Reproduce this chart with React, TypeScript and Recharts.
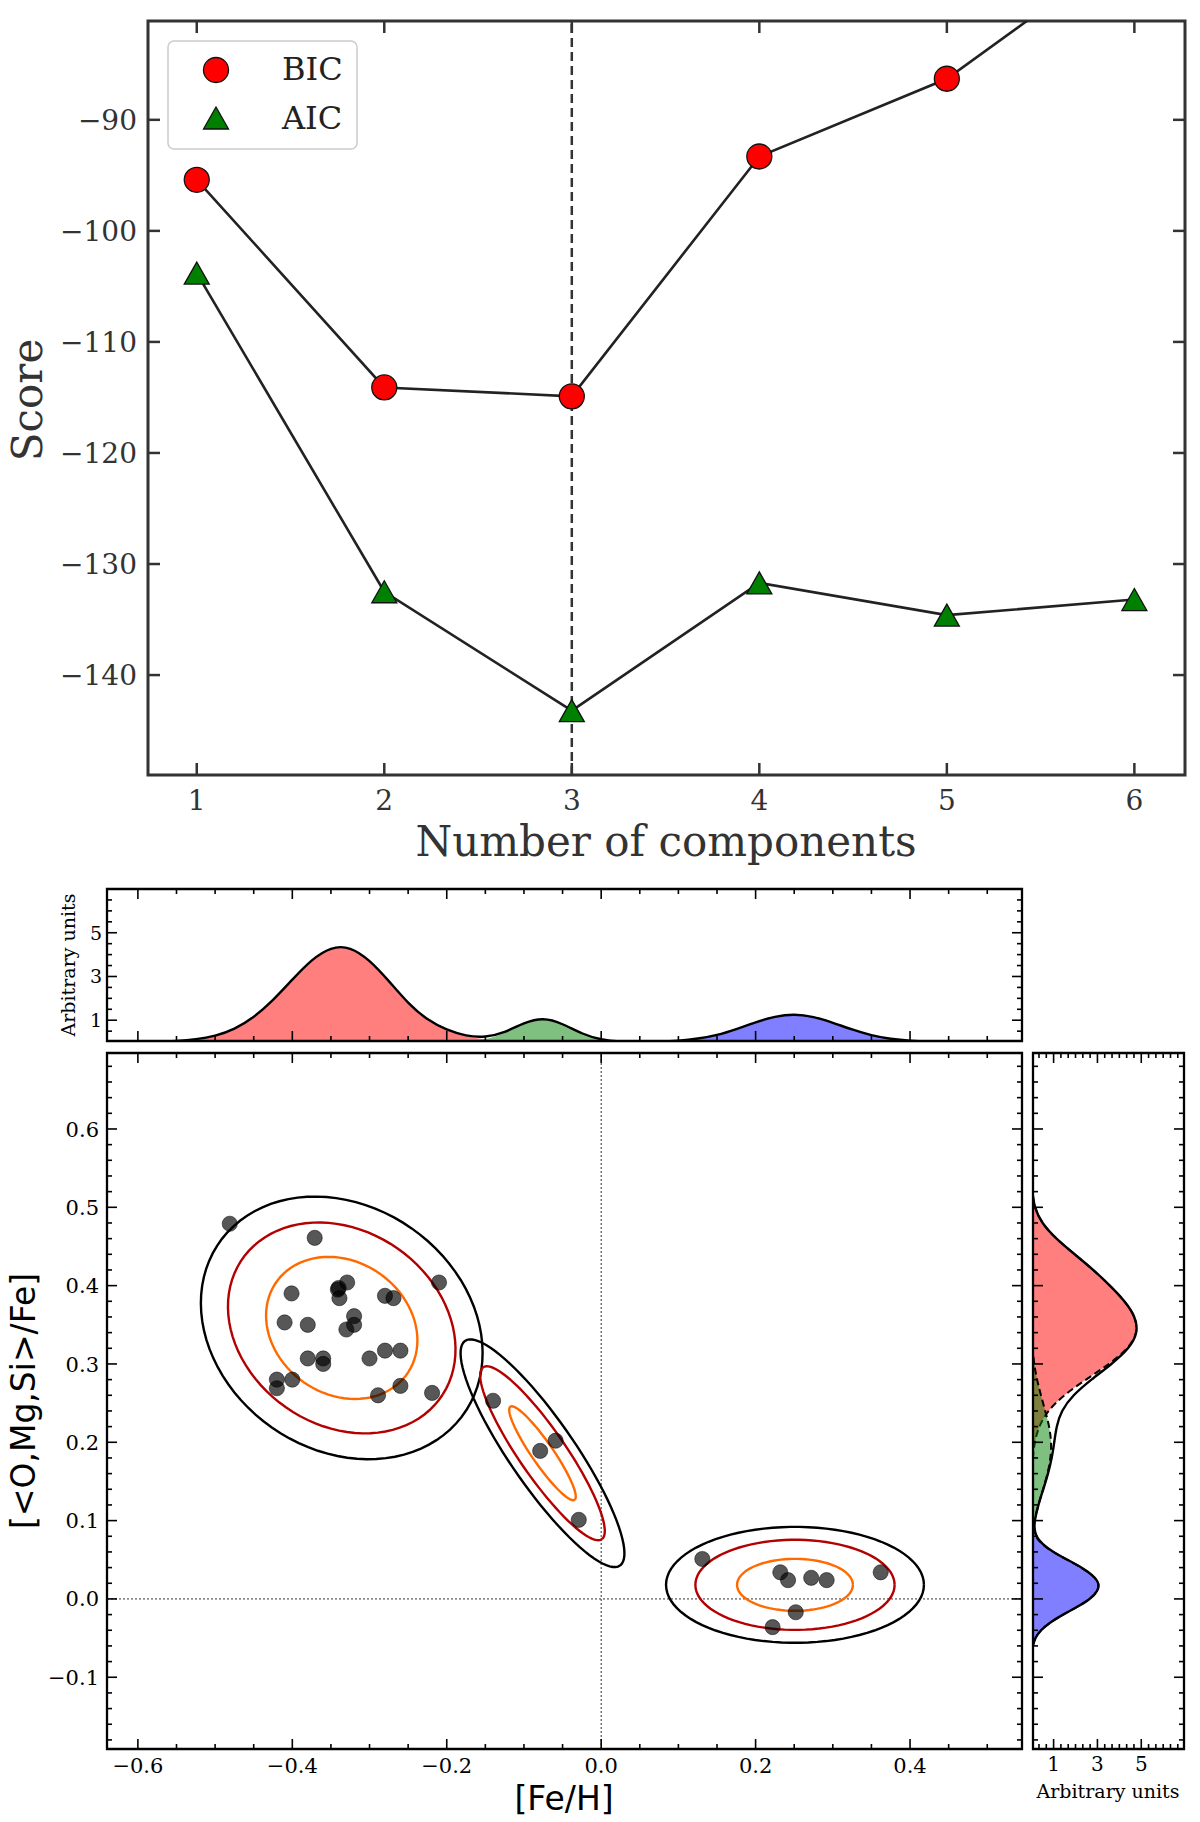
import React from "react";
import {
  ComposedChart,
  ScatterChart,
  Scatter,
  Line,
  Area,
  XAxis,
  YAxis,
  ReferenceLine,
  ReferenceArea,
} from "recharts";

const SERIF = '"DejaVu Serif", serif';
const SANS = '"DejaVu Sans", sans-serif';

// ---------- model selection scores ----------
const nComponents = [1, 2, 3, 4, 5, 6];
const bicScores = [-95.4, -114.1, -114.9, -93.3, -86.3, -74.1];
const aicScores = [-103.8, -132.5, -143.2, -131.7, -134.6, -133.2];
const scoreTicks = [-140, -130, -120, -110, -100, -90];
const bestN = 3;

// ---------- stars: [Fe/H] and [<O,Mg,Si>/Fe] ----------
const starFeH = [
  -0.481, -0.371, -0.401, -0.34, -0.329, -0.339, -0.341, -0.28, -0.269, -0.21,
  -0.41, -0.38, -0.32, -0.32, -0.33, -0.38, -0.36, -0.36, -0.3, -0.28, -0.26,
  -0.42, -0.42, -0.4, -0.26, -0.289, -0.219, -0.14, -0.079, -0.059, -0.029,
  0.131, 0.232, 0.242, 0.272, 0.292, 0.362, 0.252, 0.222,
];
const starAlpha = [
  0.479, 0.461, 0.39, 0.397, 0.404, 0.384, 0.395, 0.387, 0.384, 0.404, 0.353,
  0.35, 0.361, 0.35, 0.344, 0.307, 0.307, 0.3, 0.307, 0.317, 0.317, 0.28, 0.269,
  0.28, 0.272, 0.26, 0.263, 0.253, 0.189, 0.202, 0.101, 0.051, 0.034, 0.024,
  0.027, 0.024, 0.034, -0.017, -0.036,
];

// ---------- mixture components (contours: inner, middle, outer) ----------
const compCenterX = [-0.336, -0.076, 0.251];
const compCenterY = [0.346, 0.186, 0.018];
const compAngle = [-33, -55, 0];
const semiMajor = [
  [0.103, 0.156, 0.1925],
  [0.0725, 0.134, 0.175],
  [0.075, 0.129, 0.167],
];
const semiMinor = [
  [0.085, 0.1245, 0.156],
  [0.0138, 0.030, 0.042],
  [0.0332, 0.0575, 0.074],
];
const contourColors = ["#ff6a00", "#b30000", "#000000"];

// ---------- marginal densities ----------
const topGridX = [
  -0.65, -0.625, -0.6, -0.575, -0.55, -0.525, -0.5, -0.475, -0.45, -0.425, -0.4,
  -0.375, -0.35, -0.325, -0.3, -0.275, -0.25, -0.225, -0.2, -0.175, -0.15, -0.125,
  -0.1, -0.075, -0.05, -0.025, 0, 0.025, 0.05, 0.075, 0.1, 0.125, 0.15, 0.175, 0.2,
  0.225, 0.25, 0.275, 0.3, 0.325, 0.35, 0.375, 0.4, 0.425, 0.45, 0.475, 0.5, 0.525,
  0.55,
];
const topRed = [
  0, 0, 0.01, 0.02, 0.05, 0.12, 0.27, 0.58, 1.12, 1.9, 2.86, 3.78, 4.36, 4.37,
  3.76, 2.8, 1.76, 1.0, 0.55, 0.25, 0.1, 0.03, 0.01, 0, 0, 0, 0, 0, 0, 0, 0, 0,
  0, 0, 0, 0, 0, 0, 0, 0, 0, 0, 0, 0, 0, 0, 0, 0, 0,
];
const topGreen = [
  0, 0, 0, 0, 0, 0, 0, 0, 0, 0, 0, 0, 0, 0, 0, 0, 0, 0, 0, 0.02, 0.11, 0.4, 0.88,
  1.13, 0.85, 0.37, 0.1, 0.016, 0, 0, 0, 0, 0, 0, 0, 0, 0, 0, 0, 0, 0, 0, 0, 0, 0,
  0, 0, 0, 0,
];
const topBlue = [
  0, 0, 0, 0, 0, 0, 0, 0, 0, 0, 0, 0, 0, 0, 0, 0, 0, 0, 0, 0, 0, 0, 0, 0, 0, 0, 0,
  0, 0.005, 0.02, 0.06, 0.15, 0.31, 0.59, 0.91, 1.18, 1.29, 1.17, 0.89, 0.57, 0.3,
  0.14, 0.055, 0.02, 0.005, 0, 0, 0, 0,
];

const rightGridY = [
  -0.2, -0.1, -0.07, -0.06, -0.05, -0.04, -0.03, -0.02, -0.01, 0, 0.01, 0.02, 0.03,
  0.04, 0.05, 0.06, 0.07, 0.08, 0.09, 0.1, 0.12, 0.14, 0.16, 0.18, 0.2, 0.22, 0.24,
  0.26, 0.28, 0.3, 0.32, 0.34, 0.36, 0.38, 0.4, 0.42, 0.44, 0.46, 0.48, 0.5, 0.52,
  0.55, 0.7,
];
const rightRed = [
  0, 0, 0, 0, 0, 0, 0, 0, 0, 0, 0, 0, 0, 0, 0, 0, 0, 0, 0, 0, 0, 0.01, 0.02, 0.05,
  0.13, 0.32, 0.72, 1.45, 2.47, 3.55, 4.42, 4.84, 4.74, 4.26, 3.58, 2.82, 1.96, 1.1,
  0.45, 0.12, 0.02, 0, 0,
];
const rightGreen = [
  0, 0, 0, 0, 0, 0, 0, 0, 0, 0, 0, 0, 0, 0.01, 0.01, 0.02, 0.03, 0.04, 0.07, 0.12,
  0.3, 0.52, 0.73, 0.87, 0.9, 0.81, 0.62, 0.42, 0.24, 0.11, 0.04, 0.01, 0, 0, 0, 0,
  0, 0, 0, 0, 0, 0, 0,
];
const rightBlue = [
  0, 0, 0.01, 0.04, 0.15, 0.4, 0.83, 1.42, 2.09, 2.68, 3.02, 3.09, 2.8, 2.28, 1.62,
  0.95, 0.45, 0.15, 0.05, 0.01, 0, 0, 0, 0, 0, 0, 0, 0, 0, 0, 0, 0, 0, 0, 0, 0, 0,
  0, 0, 0, 0, 0, 0,
];

// ---------- ticks ----------
const steps = (a: number, b: number, s: number) => {
  const out: number[] = [];
  const n = Math.round((b - a) / s);
  for (let i = 0; i <= n; i++) out.push(Math.round((a + i * s) * 1e6) / 1e6);
  return out;
};
const feTicksMajor = [-0.6, -0.4, -0.2, 0, 0.2, 0.4];
const feTicks = steps(-0.6, 0.5, 0.05);
const alphaTicksMajor = [-0.1, 0, 0.1, 0.2, 0.3, 0.4, 0.5, 0.6];
const alphaTicks = steps(-0.18, 0.68, 0.02);
const unitTicksMajor = [1, 3, 5];
const topUnitTicks = steps(0.5, 6.5, 0.5);
const rightUnitTicks = steps(1 / 3, 20 / 3, 1 / 3);

// ---------- derived tables ----------
const scoreRows = nComponents.map((n, i) => ({ n, bic: bicScores[i], aic: aicScores[i] }));
const starRows = starFeH.map((x, i) => ({ x, y: starAlpha[i] }));
const topRows = topGridX.map((x, i) => ({
  x,
  red: topRed[i],
  green: topGreen[i],
  blue: topBlue[i],
  total: topRed[i] + topGreen[i] + topBlue[i],
}));
const rightRows = rightGridY.map((y, i) => ({
  y,
  red: rightRed[i],
  green: rightGreen[i],
  blue: rightBlue[i],
  total: rightRed[i] + rightGreen[i] + rightBlue[i],
}));

const ellipsePoints = (cx: number, cy: number, a: number, b: number, deg: number) => {
  const t = (deg * Math.PI) / 180;
  const pts: { x: number; y: number }[] = [];
  for (let k = 0; k <= 90; k++) {
    const p = (k / 90) * 2 * Math.PI;
    const u = a * Math.cos(p);
    const w = b * Math.sin(p);
    pts.push({
      x: cx + u * Math.cos(t) - w * Math.sin(t),
      y: cy + u * Math.sin(t) + w * Math.cos(t),
    });
  }
  return pts;
};
const contours = compCenterX.flatMap((cx, c) =>
  contourColors.map((color, l) => ({
    key: `e${c}-${l}`,
    color,
    points: ellipsePoints(cx, compCenterY[c], semiMajor[c][l], semiMinor[c][l], compAngle[c]),
  }))
);

// ---------- helpers ----------
const minus = (v: number, s: string) => (v < 0 ? "\u2212" + s : s);
const fmtInt = (v: number) => minus(v, String(Math.abs(v)));
const fmt1 = (v: number) => minus(v, Math.abs(v).toFixed(1));
const isIn = (list: number[], v: number) => list.some((m) => Math.abs(m - v) < 1e-6);

interface TickSpec {
  side: "bottom" | "left";
  majors: number[];
  labels: boolean;
  fmt: (v: number) => string;
  majorLen: number;
  minorLen: number;
  opposite: number;
  color: string;
  width: number;
  size: number;
  gap: number;
}

function tickRenderer(s: TickSpec) {
  return (props: any) => {
    const { x, y, payload } = props;
    const v = payload.value;
    const major = isIn(s.majors, v);
    const len = major ? s.majorLen : s.minorLen;
    const st = { stroke: s.color, strokeWidth: s.width };
    if (s.side === "bottom") {
      return (
        <g>
          <line x1={x} y1={y} x2={x} y2={y - len} {...st} />
          <line x1={x} y1={y - s.opposite} x2={x} y2={y - s.opposite + len} {...st} />
          {major && s.labels ? (
            <text x={x} y={y + s.gap} textAnchor="middle" fontFamily={SERIF} fontSize={s.size} fill={s.color}>
              {s.fmt(v)}
            </text>
          ) : null}
        </g>
      );
    }
    return (
      <g>
        <line x1={x} y1={y} x2={x + len} y2={y} {...st} />
        <line x1={x + s.opposite} y1={y} x2={x + s.opposite - len} y2={y} {...st} />
        {major && s.labels ? (
          <text x={x - s.gap} y={y + s.size * 0.36} textAnchor="end" fontFamily={SERIF} fontSize={s.size} fill={s.color}>
            {s.fmt(v)}
          </text>
        ) : null}
      </g>
    );
  };
}

const noShape = () => <g />;

const bicDot = (p: any) => (
  <circle key={`b${p.index}`} cx={p.cx} cy={p.cy} r={12.5} fill="#ff0000" stroke="#111" strokeWidth={1.3} />
);
const aicDot = (p: any) => (
  <path
    key={`a${p.index}`}
    d={`M${p.cx},${p.cy - 11}L${p.cx - 12.5},${p.cy + 11}L${p.cx + 12.5},${p.cy + 11}Z`}
    fill="#008000"
    stroke="#111"
    strokeWidth={1.3}
  />
);
const starDot = (p: any) => (
  <circle cx={p.cx} cy={p.cy} r={7.6} fill="#000" fillOpacity={0.66} stroke="#000" strokeOpacity={0.5} strokeWidth={1} />
);

export default function App() {
  return (
    <div style={{ position: "absolute", left: 0, top: 0, width: 1200, height: 1822, background: "#fff", overflow: "hidden" }}>
      {/* model selection */}
      <div style={{ position: "absolute", left: 0, top: 0 }}>
        <ComposedChart width={1200} height={870} data={scoreRows} margin={{ top: 21, right: 15, bottom: 0, left: 0 }}>
          <XAxis
            type="number"
            dataKey="n"
            domain={[0.74, 6.27]}
            ticks={nComponents}
            interval={0}
            allowDataOverflow
            height={95}
            tickSize={0}
            tickMargin={0}
            axisLine={false}
            tickLine={false}
            tick={tickRenderer({ side: "bottom", majors: nComponents, labels: true, fmt: fmtInt, majorLen: 12, minorLen: 6, opposite: 754, color: "#333", width: 2.5, size: 28, gap: 35 })}
          />
          <YAxis
            type="number"
            domain={[-149, -81.1]}
            ticks={scoreTicks}
            interval={0}
            allowDataOverflow
            width={148}
            tickSize={0}
            tickMargin={0}
            axisLine={false}
            tickLine={false}
            tick={tickRenderer({ side: "left", majors: scoreTicks, labels: true, fmt: fmtInt, majorLen: 12, minorLen: 6, opposite: 1037, color: "#333", width: 2.5, size: 28, gap: 11 })}
          />
          <ReferenceLine x={bestN} stroke="#333" strokeWidth={2.5} strokeDasharray="9 5" />
          <Line type="linear" dataKey="bic" stroke="#222" strokeWidth={2.6} dot={bicDot} isAnimationActive={false} />
          <Line type="linear" dataKey="aic" stroke="#222" strokeWidth={2.6} dot={aicDot} isAnimationActive={false} />
          <ReferenceArea x1={0.74} x2={6.27} y1={-149} y2={-81.1} fill="none" fillOpacity={0} stroke="#333" strokeWidth={3} ifOverflow="visible" />
        </ComposedChart>
      </div>

      {/* top marginal */}
      <div style={{ position: "absolute", left: 0, top: 880 }}>
        <ComposedChart width={1030} height={165} data={topRows} margin={{ top: 9, right: 8, bottom: 0, left: 0 }}>
          <XAxis
            type="number"
            dataKey="x"
            domain={[-0.64, 0.545]}
            ticks={feTicks}
            interval={0}
            allowDataOverflow
            height={4}
            tickSize={0}
            tickMargin={0}
            axisLine={false}
            tickLine={false}
            tick={tickRenderer({ side: "bottom", majors: feTicksMajor, labels: false, fmt: fmt1, majorLen: 10, minorLen: 5, opposite: 152, color: "#000", width: 1.6, size: 21, gap: 24 })}
          />
          <YAxis
            type="number"
            domain={[0.05, 7]}
            ticks={topUnitTicks}
            interval={0}
            allowDataOverflow
            width={107}
            tickSize={0}
            tickMargin={0}
            axisLine={false}
            tickLine={false}
            tick={tickRenderer({ side: "left", majors: unitTicksMajor, labels: true, fmt: fmtInt, majorLen: 10, minorLen: 5, opposite: 915, color: "#000", width: 1.6, size: 19, gap: 5 })}
          />
          <Area type="basis" dataKey="red" fill="#ff0000" fillOpacity={0.5} stroke="none" isAnimationActive={false} />
          <Area type="basis" dataKey="green" fill="#008000" fillOpacity={0.5} stroke="none" isAnimationActive={false} />
          <Area type="basis" dataKey="blue" fill="#0000ff" fillOpacity={0.5} stroke="none" isAnimationActive={false} />
          <Line type="basis" dataKey="total" stroke="#000" strokeWidth={2.4} dot={false} isAnimationActive={false} />
          <ReferenceArea x1={-0.64} x2={0.545} y1={0.05} y2={7} fill="none" fillOpacity={0} stroke="#000" strokeWidth={2.3} ifOverflow="visible" />
        </ComposedChart>
      </div>

      {/* scatter with contours */}
      <div style={{ position: "absolute", left: 0, top: 1040 }}>
        <ScatterChart width={1030} height={782} margin={{ top: 13, right: 8, bottom: 0, left: 0 }}>
          <XAxis
            type="number"
            dataKey="x"
            domain={[-0.64, 0.545]}
            ticks={feTicks}
            interval={0}
            allowDataOverflow
            height={73}
            tickSize={0}
            tickMargin={0}
            axisLine={false}
            tickLine={false}
            tick={tickRenderer({ side: "bottom", majors: feTicksMajor, labels: true, fmt: fmt1, majorLen: 10, minorLen: 5, opposite: 696, color: "#000", width: 1.6, size: 21, gap: 24 })}
          />
          <YAxis
            type="number"
            dataKey="y"
            domain={[-0.1916, 0.697]}
            ticks={alphaTicks}
            interval={0}
            allowDataOverflow
            width={107}
            tickSize={0}
            tickMargin={0}
            axisLine={false}
            tickLine={false}
            tick={tickRenderer({ side: "left", majors: alphaTicksMajor, labels: true, fmt: fmt1, majorLen: 10, minorLen: 5, opposite: 915, color: "#000", width: 1.6, size: 21, gap: 8 })}
          />
          <ReferenceLine x={0} stroke="#333" strokeWidth={1} strokeDasharray="2 2" />
          <ReferenceLine y={0} stroke="#333" strokeWidth={1} strokeDasharray="2 2" />
          {contours.map((c) => (
            <Scatter
              key={c.key}
              data={c.points}
              line={{ stroke: c.color, strokeWidth: 2.4 }}
              lineType="joint"
              shape={noShape}
              isAnimationActive={false}
            />
          ))}
          <Scatter data={starRows} shape={starDot} isAnimationActive={false} />
          <ReferenceArea x1={-0.64} x2={0.545} y1={-0.1916} y2={0.697} fill="none" fillOpacity={0} stroke="#000" strokeWidth={2.3} ifOverflow="visible" />
        </ScatterChart>
      </div>

      {/* right marginal */}
      <div style={{ position: "absolute", left: 1030, top: 1040 }}>
        <ComposedChart layout="vertical" width={170} height={782} data={rightRows} margin={{ top: 13, right: 16, bottom: 0, left: 0 }}>
          <XAxis
            type="number"
            domain={[0.06, 6.95]}
            ticks={rightUnitTicks}
            interval={0}
            allowDataOverflow
            height={73}
            tickSize={0}
            tickMargin={0}
            axisLine={false}
            tickLine={false}
            tick={tickRenderer({ side: "bottom", majors: unitTicksMajor, labels: true, fmt: fmtInt, majorLen: 10, minorLen: 5, opposite: 696, color: "#000", width: 1.6, size: 20, gap: 22 })}
          />
          <YAxis
            type="number"
            dataKey="y"
            domain={[-0.1916, 0.697]}
            reversed
            ticks={alphaTicks}
            interval={0}
            allowDataOverflow
            width={3}
            tickSize={0}
            tickMargin={0}
            axisLine={false}
            tickLine={false}
            tick={tickRenderer({ side: "left", majors: alphaTicksMajor, labels: false, fmt: fmt1, majorLen: 10, minorLen: 5, opposite: 151, color: "#000", width: 1.6, size: 20, gap: 8 })}
          />
          <Area type="basis" dataKey="red" fill="#ff0000" fillOpacity={0.5} stroke="#000" strokeWidth={2} strokeDasharray="7 4" isAnimationActive={false} />
          <Area type="basis" dataKey="green" fill="#008000" fillOpacity={0.5} stroke="#000" strokeWidth={2} strokeDasharray="7 4" isAnimationActive={false} />
          <Area type="basis" dataKey="blue" fill="#0000ff" fillOpacity={0.5} stroke="#000" strokeWidth={2} strokeDasharray="7 4" isAnimationActive={false} />
          <Line type="basis" dataKey="total" stroke="#000" strokeWidth={2.4} dot={false} isAnimationActive={false} />
          <ReferenceArea x1={0.06} x2={6.95} y1={-0.1916} y2={0.697} fill="none" fillOpacity={0} stroke="#000" strokeWidth={2.3} ifOverflow="visible" />
        </ComposedChart>
      </div>

      {/* titles and legend */}
      <svg width={1200} height={1822} style={{ position: "absolute", left: 0, top: 0, pointerEvents: "none" }}>
        <text x={666} y={856} textAnchor="middle" fontFamily={SERIF} fontSize={42} fill="#333">
          Number of components
        </text>
        <text transform="translate(42,400) rotate(-90)" textAnchor="middle" fontFamily={SERIF} fontSize={42} fill="#333">
          Score
        </text>
        <g>
          <rect x={168} y={41} width={189} height={108} rx={6} fill="#fff" fillOpacity={0.85} stroke="#cccccc" strokeWidth={1.5} />
          <circle cx={216} cy={70} r={12.5} fill="#ff0000" stroke="#111" strokeWidth={1.3} />
          <path d="M216,107L203.5,129L228.5,129Z" fill="#008000" stroke="#111" strokeWidth={1.3} />
          <text x={282} y={80} fontFamily={SERIF} fontSize={32} fill="#222">BIC</text>
          <text x={282} y={129} fontFamily={SERIF} fontSize={32} fill="#222">AIC</text>
        </g>
        <text transform="translate(75,965) rotate(-90)" textAnchor="middle" fontFamily={SERIF} fontSize={19} fill="#000">
          Arbitrary units
        </text>
        <text x={1108} y={1798} textAnchor="middle" fontFamily={SERIF} fontSize={19} fill="#000">
          Arbitrary units
        </text>
        <text x={564} y={1810} textAnchor="middle" fontFamily={SANS} fontSize={33} fill="#000">
          [Fe/H]
        </text>
        <text transform="translate(35,1401) rotate(-90)" textAnchor="middle" fontFamily={SANS} fontSize={33} fill="#000">
          {"[<O,Mg,Si>/Fe]"}
        </text>
      </svg>
    </div>
  );
}
